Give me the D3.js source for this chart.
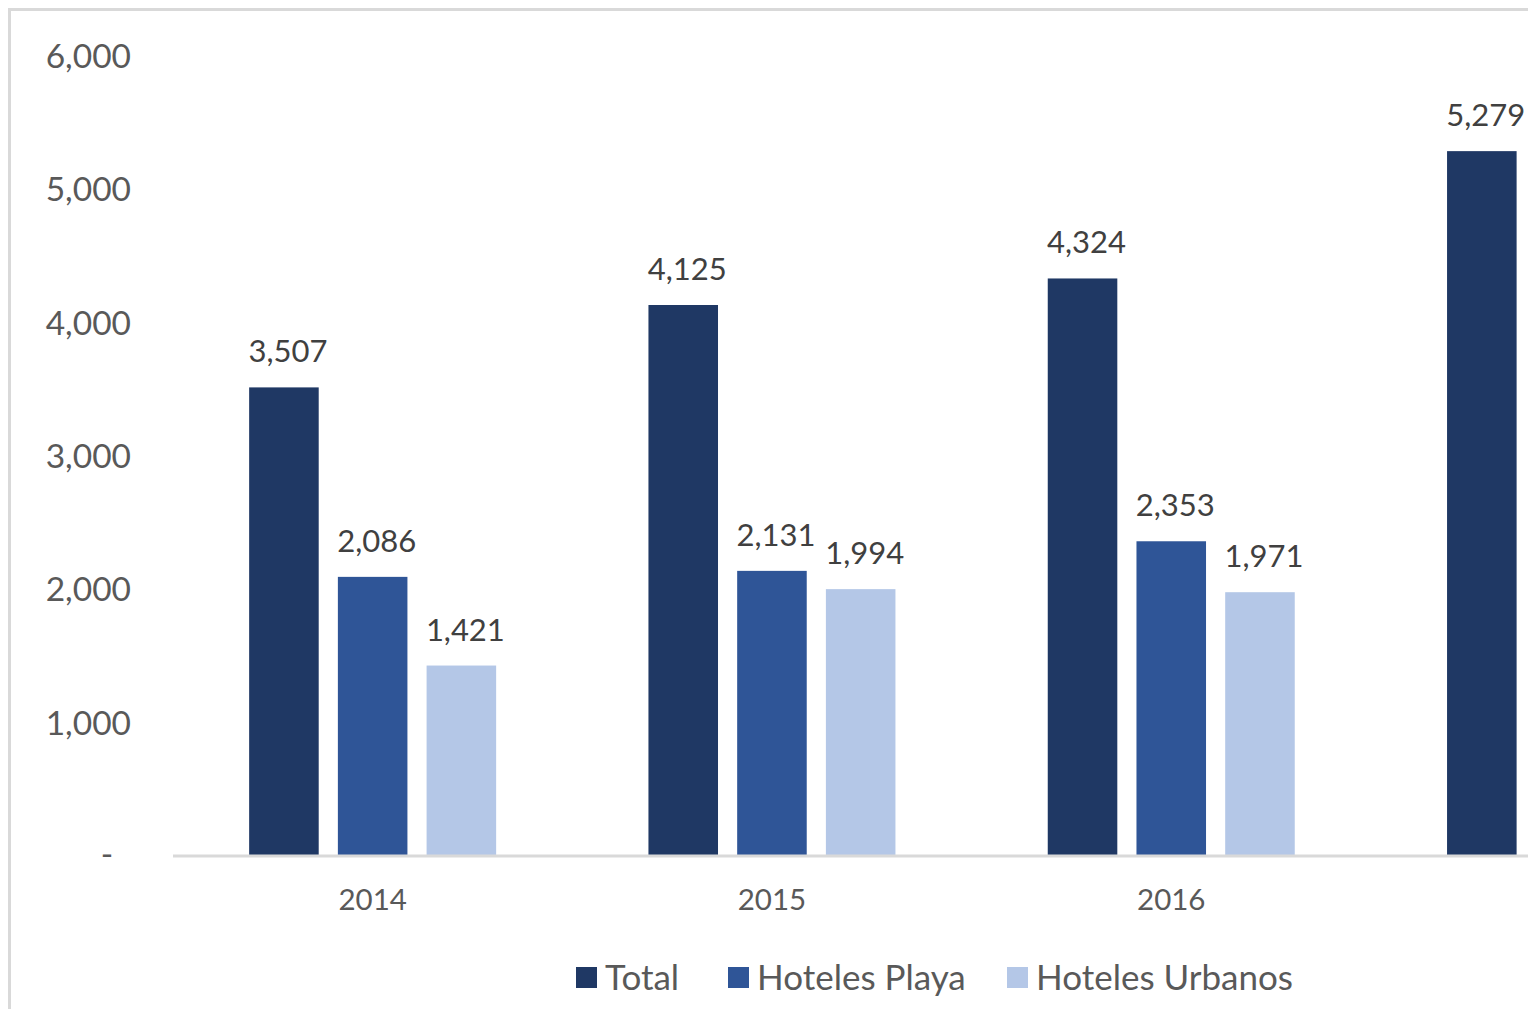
<!DOCTYPE html>
<html>
<head>
<meta charset="utf-8">
<script src="https://cdn.jsdelivr.net/npm/d3@7"></script>
<style>
html,body{margin:0;padding:0;background:#fff;overflow:hidden;}
svg{display:block;font-family:Lato, "Open Sans", sans-serif;}
</style>
</head>
<body>
<svg id="chart" width="1528" height="1009"></svg>
<script>
const categories = ["2014", "2015", "2016", "2017"];
const seriesNames = ["Total", "Hoteles Playa", "Hoteles Urbanos"];
const totalValues = [3507, 4125, 4324, 5279];
const playaValues = [2086, 2131, 2353, null];
const urbanosValues = [1421, 1994, 1971, null];
const tickValues = [0, 1000, 2000, 3000, 4000, 5000, 6000];
const tickLabels = ["-", "1,000", "2,000", "3,000", "4,000", "5,000", "6,000"];
const colors = ["#1F3864", "#2F5597", "#B4C7E7"];

const seriesValues = [totalValues, playaValues, urbanosValues];
const svg = d3.select("#chart");
const textColor = "#595959";
const W = 1528;

// frame
svg.append("rect").attr("x", 9.5).attr("y", 9.5).attr("width", 1700).attr("height", 1100)
  .attr("fill", "none").attr("stroke", "#D9D9D9").attr("stroke-width", 3);

const x0 = d3.scaleBand().domain(categories).range([173, 173 + 4 * 399.3]).padding(0);
const y = d3.scaleLinear().domain([0, 6000]).range([855, 55]);
const groupW = 247;
const x1 = d3.scaleBand().domain(seriesNames).range([0, groupW]).paddingInner(0.216).paddingOuter(0);

// y tick labels
const yAxis = svg.append("g");
tickValues.forEach((v, i) => {
  const isZero = v === 0;
  yAxis.append("text")
    .attr("x", isZero ? 107 : 131)
    .attr("y", y(v) + (isZero ? -2 : 0))
    .attr("text-anchor", isZero ? "middle" : "end")
    .attr("dominant-baseline", "central")
    .attr("fill", textColor)
    .attr("font-size", 33.5)
    .text(tickLabels[i]);
});

// bars
const data = [];
categories.forEach((c, ci) => {
  seriesNames.forEach((s, si) => {
    const v = seriesValues[si][ci];
    if (v != null) data.push({c, s, si, v});
  });
});

const gx = c => x0(c) + (x0.bandwidth() - groupW) / 2;

svg.append("g").selectAll("rect").data(data).join("rect")
  .attr("x", d => gx(d.c) + x1(d.s))
  .attr("y", d => y(d.v))
  .attr("width", x1.bandwidth())
  .attr("height", d => y(0) - y(d.v))
  .attr("fill", d => colors[d.si]);

svg.append("g").selectAll("text").data(data).join("text")
  .attr("x", d => gx(d.c) + x1(d.s) + x1.bandwidth() / 2 + 4)
  .attr("y", d => y(d.v) - 25)
  .attr("text-anchor", "middle")
  .attr("fill", "#404040")
  .attr("font-size", 31)
  .text(d => d3.format(",")(d.v));

// x axis line
svg.append("line").attr("x1", 173).attr("x2", 1800).attr("y1", 856).attr("y2", 856)
  .attr("stroke", "#D9D9D9").attr("stroke-width", 3);

// category labels (only those whose position lies inside the visible frame)
svg.append("g").selectAll("text")
  .data(categories.filter(c => x0(c) + x0.bandwidth() / 2 + 40 < W))
  .join("text")
  .attr("x", c => x0(c) + x0.bandwidth() / 2)
  .attr("y", 910)
  .attr("text-anchor", "middle")
  .attr("fill", textColor)
  .attr("font-size", 29.5)
  .text(c => c);

// legend
const legendX = [576, 728, 1007];
const lg = svg.append("g");
seriesNames.forEach((s, i) => {
  lg.append("rect").attr("x", legendX[i]).attr("y", 967).attr("width", 21).attr("height", 21).attr("fill", colors[i]);
  lg.append("text").attr("x", legendX[i] + 29).attr("y", 990)
    .attr("fill", textColor).attr("font-size", 35).text(s);
});
</script>
</body>
</html>
